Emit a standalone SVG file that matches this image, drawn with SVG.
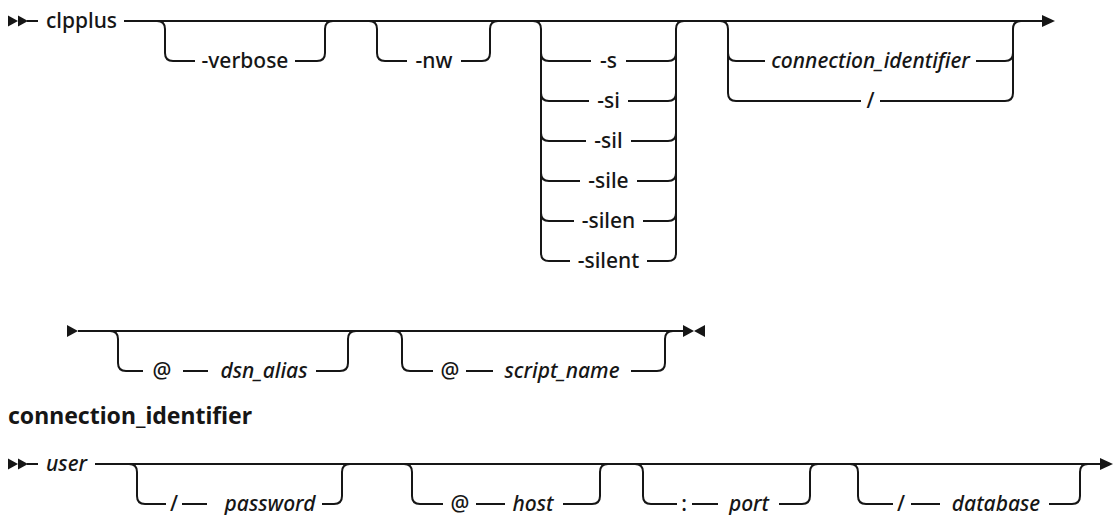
<svg xmlns="http://www.w3.org/2000/svg" width="1114" height="515" viewBox="0 0 1114 515">
<style>
.ln{fill:none;stroke:#161616;stroke-width:2}
.ar{fill:#161616;stroke:none}
.t{font-family:"Noto Sans","Liberation Sans",sans-serif;font-size:21px;font-weight:500;fill:#161616}
.i{font-style:italic}
.m{text-anchor:middle}
.h{font-family:"Noto Sans","Liberation Sans",sans-serif;font-size:23px;font-weight:bold;fill:#161616}
</style>
<rect width="1114" height="515" fill="#ffffff"/>
<g id="connectors">
<!-- row 1 -->
<path class="ln" d="M27,21 H38 M124,21 H1042"/>
<path class="ln" d="M157,21 Q165,21 165,29 V53 Q165,61 173,61 H195 M295,61 H317 Q325,61 325,53 V29 Q325,21 333,21"/>
<path class="ln" d="M369,21 Q377,21 377,29 V53 Q377,61 385,61 H407 M461,61 H482 Q490,61 490,53 V29 Q490,21 498,21"/>
<path class="ln" d="M533,21 Q541,21 541,29 V253 Q541,261 549,261 M668,261 Q676,261 676,253 V29 Q676,21 684,21
M541,53 Q541,61 549,61 M541,93 Q541,101 549,101 M541,133 Q541,141 549,141 M541,173 Q541,181 549,181 M541,213 Q541,221 549,221
M668,61 Q676,61 676,53 M668,101 Q676,101 676,93 M668,141 Q676,141 676,133 M668,181 Q676,181 676,173 M668,221 Q676,221 676,213
M549,61 H591 M626,61 H668
M549,101 H589 M628,101 H668
M549,141 H586 M631,141 H668
M549,181 H580 M637,181 H668
M549,221 H574 M643,221 H668
M549,261 H570 M647,261 H668"/>
<path class="ln" d="M720,21 Q728,21 728,29 V93 Q728,101 736,101 H861 M880,101 H1005 Q1013,101 1013,93 V29 Q1013,21 1021,21
M728,53 Q728,61 736,61 H765 M976,61 H1005 Q1013,61 1013,53"/>
<polygon class="ar" points="1042,15 1055,21 1042,27"/>
<!-- row 2 -->
<path class="ln" d="M78,331 H683"/>
<path class="ln" d="M110,331 Q118,331 118,339 V363 Q118,371 126,371 H143 M183,371 H208 M316,371 H340 Q348,371 348,363 V339 Q348,331 356,331"/>
<path class="ln" d="M394,331 Q402,331 402,339 V363 Q402,371 410,371 H433 M466,371 H493 M631,371 H657 Q665,371 665,363 V339 Q665,331 673,331"/>
<!-- row 3 -->
<path class="ln" d="M27,464 H38 M95,464 H1100"/>
<path class="ln" d="M129,464 Q137,464 137,472 V496 Q137,504 145,504 H166 M182,504 H207 M322,504 H334 Q342,504 342,496 V472 Q342,464 350,464"/>
<path class="ln" d="M404,464 Q412,464 412,472 V496 Q412,504 420,504 H443 M476,504 H505 M563,504 H592 Q600,504 600,496 V472 Q600,464 608,464"/>
<path class="ln" d="M635,464 Q643,464 643,472 V496 Q643,504 651,504 H677 M692,504 H718 M779,504 H802 Q810,504 810,496 V472 Q810,464 818,464"/>
<path class="ln" d="M850,464 Q858,464 858,472 V496 Q858,504 866,504 H893 M911,504 H940 M1049,504 H1072 Q1080,504 1080,496 V472 Q1080,464 1088,464"/>
</g>
<g id="start1"><polygon class="ar" points="8,15.5 18,21 8,26.5"/><polygon class="ar" points="18,15.5 28,21 18,26.5"/></g>
<g id="n-clpplus"><text class="t" x="46" y="27.5">clpplus</text></g>
<g id="n-verbose"><text class="t m" x="245" y="67.5">-verbose</text></g>
<g id="n-nw"><text class="t m" x="434" y="67.5">-nw</text></g>
<g id="n-s"><text class="t m" x="608.5" y="67.5">-s</text></g>
<g id="n-si"><text class="t m" x="608.5" y="107.5">-si</text></g>
<g id="n-sil"><text class="t m" x="608.5" y="147.5">-sil</text></g>
<g id="n-sile"><text class="t m" x="608.5" y="187.5">-sile</text></g>
<g id="n-silen"><text class="t m" x="608.5" y="227.5">-silen</text></g>
<g id="n-silent"><text class="t m" x="608.5" y="267.5">-silent</text></g>
<g id="n-connid"><text class="t i m" x="870.5" y="67.5">connection_identifier</text></g>
<g id="n-slash1"><text class="t m" x="870.5" y="107.5">/</text></g>
<g id="start2"><polygon class="ar" points="67,325 78,331 67,337"/></g>
<g id="n-at1"><text class="t m" x="162" y="377.5">@</text></g>
<g id="n-dsn"><text class="t i m" x="264" y="377.5">dsn_alias</text></g>
<g id="n-at2"><text class="t m" x="450" y="377.5">@</text></g>
<g id="n-script"><text class="t i m" x="562" y="377.5">script_name</text></g>
<g id="end2"><polygon class="ar" points="683,325 694,331 683,337"/><polygon class="ar" points="705,325 694,331 705,337"/></g>
<g id="heading"><text class="h" x="8" y="424">connection_identifier</text></g>
<g id="start3"><polygon class="ar" points="8,458.5 18,464 8,469.5"/><polygon class="ar" points="18,458.5 28,464 18,469.5"/></g>
<g id="n-user"><text class="t i" x="46" y="470.5">user</text></g>
<g id="n-slash2"><text class="t m" x="174" y="510.5">/</text></g>
<g id="n-password"><text class="t i m" x="270" y="510.5">password</text></g>
<g id="n-at3"><text class="t m" x="460" y="510.5">@</text></g>
<g id="n-host"><text class="t i m" x="533" y="510.5">host</text></g>
<g id="n-colon"><text class="t m" x="684" y="510.5">:</text></g>
<g id="n-port"><text class="t i m" x="749" y="510.5">port</text></g>
<g id="n-slash3"><text class="t m" x="901" y="510.5">/</text></g>
<g id="n-database"><text class="t i m" x="996" y="510.5">database</text></g>
<g id="end3"><polygon class="ar" points="1100,458 1113,464 1100,470"/></g>
</svg>
